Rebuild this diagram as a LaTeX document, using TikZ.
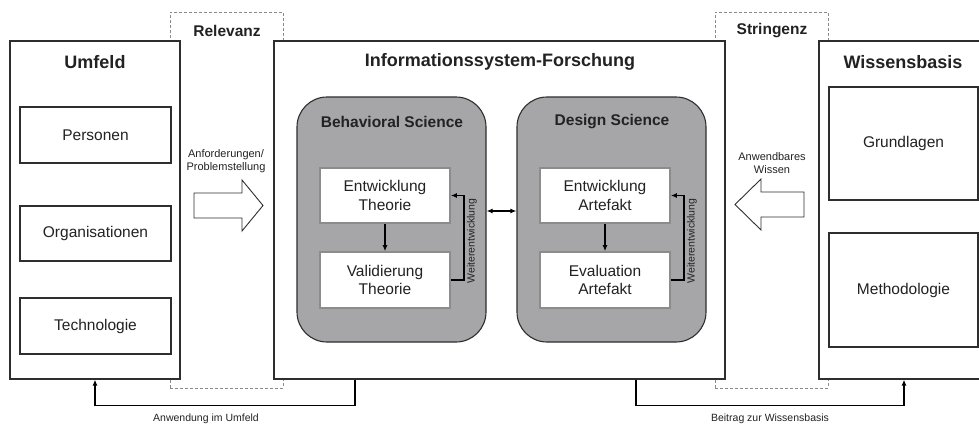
\documentclass[tikz,border=0pt]{standalone}
\usepackage{fontspec}
\setmainfont{Liberation Sans}
\usetikzlibrary{arrows.meta}
\definecolor{ink}{HTML}{222222}
\definecolor{edge}{HTML}{2E2E2E}
\definecolor{grayfill}{HTML}{A6A6A8}
\definecolor{inneredge}{HTML}{8C8C8C}
\definecolor{dashc}{HTML}{8A8A8A}
\begin{document}
\begin{tikzpicture}[x=1pt,y=-1pt,
  every node/.style={text=ink, inner sep=0pt},
  outerbox/.style={draw=edge, line width=1.2pt, fill=white},
  dashbox/.style={draw=dashc, line width=0.8pt, dash pattern=on 3pt off 2pt},
  itembox/.style={draw=edge, line width=1.1pt, fill=white, font=\fontsize{15.5}{18}\selectfont, align=center},
  sciencebox/.style={draw=edge, line width=1.1pt, fill=grayfill, rounded corners=30pt},
  stagebox/.style={draw=inneredge, line width=1.6pt, fill=white, minimum width=130pt, font=\fontsize{15.5}{18.5}\selectfont, align=center},
  bigtitle/.style={font=\bfseries\fontsize{18}{20}\selectfont},
  midtitle/.style={font=\bfseries\fontsize{15.5}{18}\selectfont},
  smalltext/.style={font=\fontsize{11}{13}\selectfont, align=center},
  tinytext/.style={font=\fontsize{10.5}{12}\selectfont},
  conn/.style={draw=black, line width=1.4pt, -{Latex[length=6pt,width=5pt]}},
  blockarrow/.style={draw=edge, line width=0.9pt, fill=white, line join=miter}
]
\useasboundingbox (0,0) rectangle (979,426);

% dashed frames
\node[dashbox, minimum width=113pt, minimum height=376pt] (rel) at (226.5,200) {};
\node[dashbox, minimum width=113pt, minimum height=376pt] (str) at (771.5,200) {};
\node[midtitle] (relt) at (227,31) {Relevanz};
\node[midtitle] (strt) at (772,31) {Stringenz};

% outer boxes
\node[outerbox, minimum width=170pt, minimum height=338pt] (umf) at (95,210) {};
\node[outerbox, minimum width=451pt, minimum height=338pt] (mid) at (499.5,210) {};
\node[outerbox, minimum width=170pt, minimum height=338pt] (wis) at (904,210) {};

\node[bigtitle] (umft) at (95,62) {Umfeld};
\node[bigtitle] (midt) at (500,62) {Informationssystem-Forschung};
\node[bigtitle] (wist) at (903,62) {Wissensbasis};

% Umfeld items
\node[itembox, minimum width=151pt, minimum height=56pt] (pers) at (95.5,135) {Personen};
\node[itembox, minimum width=151pt, minimum height=55pt] (org) at (95.5,233.5) {Organisationen};
\node[itembox, minimum width=151pt, minimum height=56pt] (tech) at (95.5,326) {Technologie};

% Wissensbasis items
\node[itembox, minimum width=149pt, minimum height=113pt] (grund) at (903.5,143.5) {Grundlagen};
\node[itembox, minimum width=149pt, minimum height=114pt] (meth) at (903.5,290) {Methodologie};

% science boxes
\node[sciencebox, minimum width=189pt, minimum height=245pt] (bs) at (391.5,219.5) {};
\node[sciencebox, minimum width=189pt, minimum height=245pt] (ds) at (611.5,219.5) {};
\node[midtitle] (bst) at (392,122) {Behavioral Science};
\node[midtitle] (dst) at (612,122) {Design Science};

\node[stagebox, minimum height=55pt] (et) at (385,195.5) {Entwicklung\\Theorie};
\node[stagebox, minimum height=56pt] (vt) at (385,280) {Validierung\\Theorie};
\node[stagebox, minimum height=55pt] (ea) at (605,195.5) {Entwicklung\\Artefakt};
\node[stagebox, minimum height=56pt] (eva) at (605,280) {Evaluation\\Artefakt};

\draw[conn] (et) -- (vt);
\draw[conn] (ea) -- (eva);
\draw[conn] (vt.east) -- ++(13,0) |- (et.east);
\draw[conn] (eva.east) -- ++(13,0) |- (ea.east);
\node[tinytext, rotate=90] (w1) at (472,241) {Weiterentwicklung};
\node[tinytext, rotate=90] (w2) at (692,241) {Weiterentwicklung};

\coordinate (dy) at (0,211);
\draw[draw=black, line width=1.4pt, {Latex[length=6pt,width=5pt]}-{Latex[length=6pt,width=5pt]}] (bs.east |- dy) -- (ds.west |- dy);

% block arrows
\draw[blockarrow] (194,193) -- (242,193) -- (242,180) -- (263,205.5) -- (242,231) -- (242,218) -- (194,218) -- cycle;
\node[smalltext] (anf) at (226,161.5) {Anforderungen/\\Problemstellung};
\draw[blockarrow] (804,192) -- (761,192) -- (761,179) -- (735,204.5) -- (761,230) -- (761,217) -- (804,217) -- cycle;
\node[smalltext] (anw) at (772,163) {Anwendbares\\Wissen};

% bottom connectors
\coordinate (a1) at (355,405.5);
\coordinate (b1) at (636,405.5);
\draw[conn] (mid.south -| a1) -- (a1) -| (umf.south);
\draw[conn] (mid.south -| b1) -- (b1) -| (wis.south);
\node[tinytext] (anwl) at (206,419) {Anwendung im Umfeld};
\node[tinytext] (beil) at (770,419) {Beitrag zur Wissensbasis};
\end{tikzpicture}
\end{document}
